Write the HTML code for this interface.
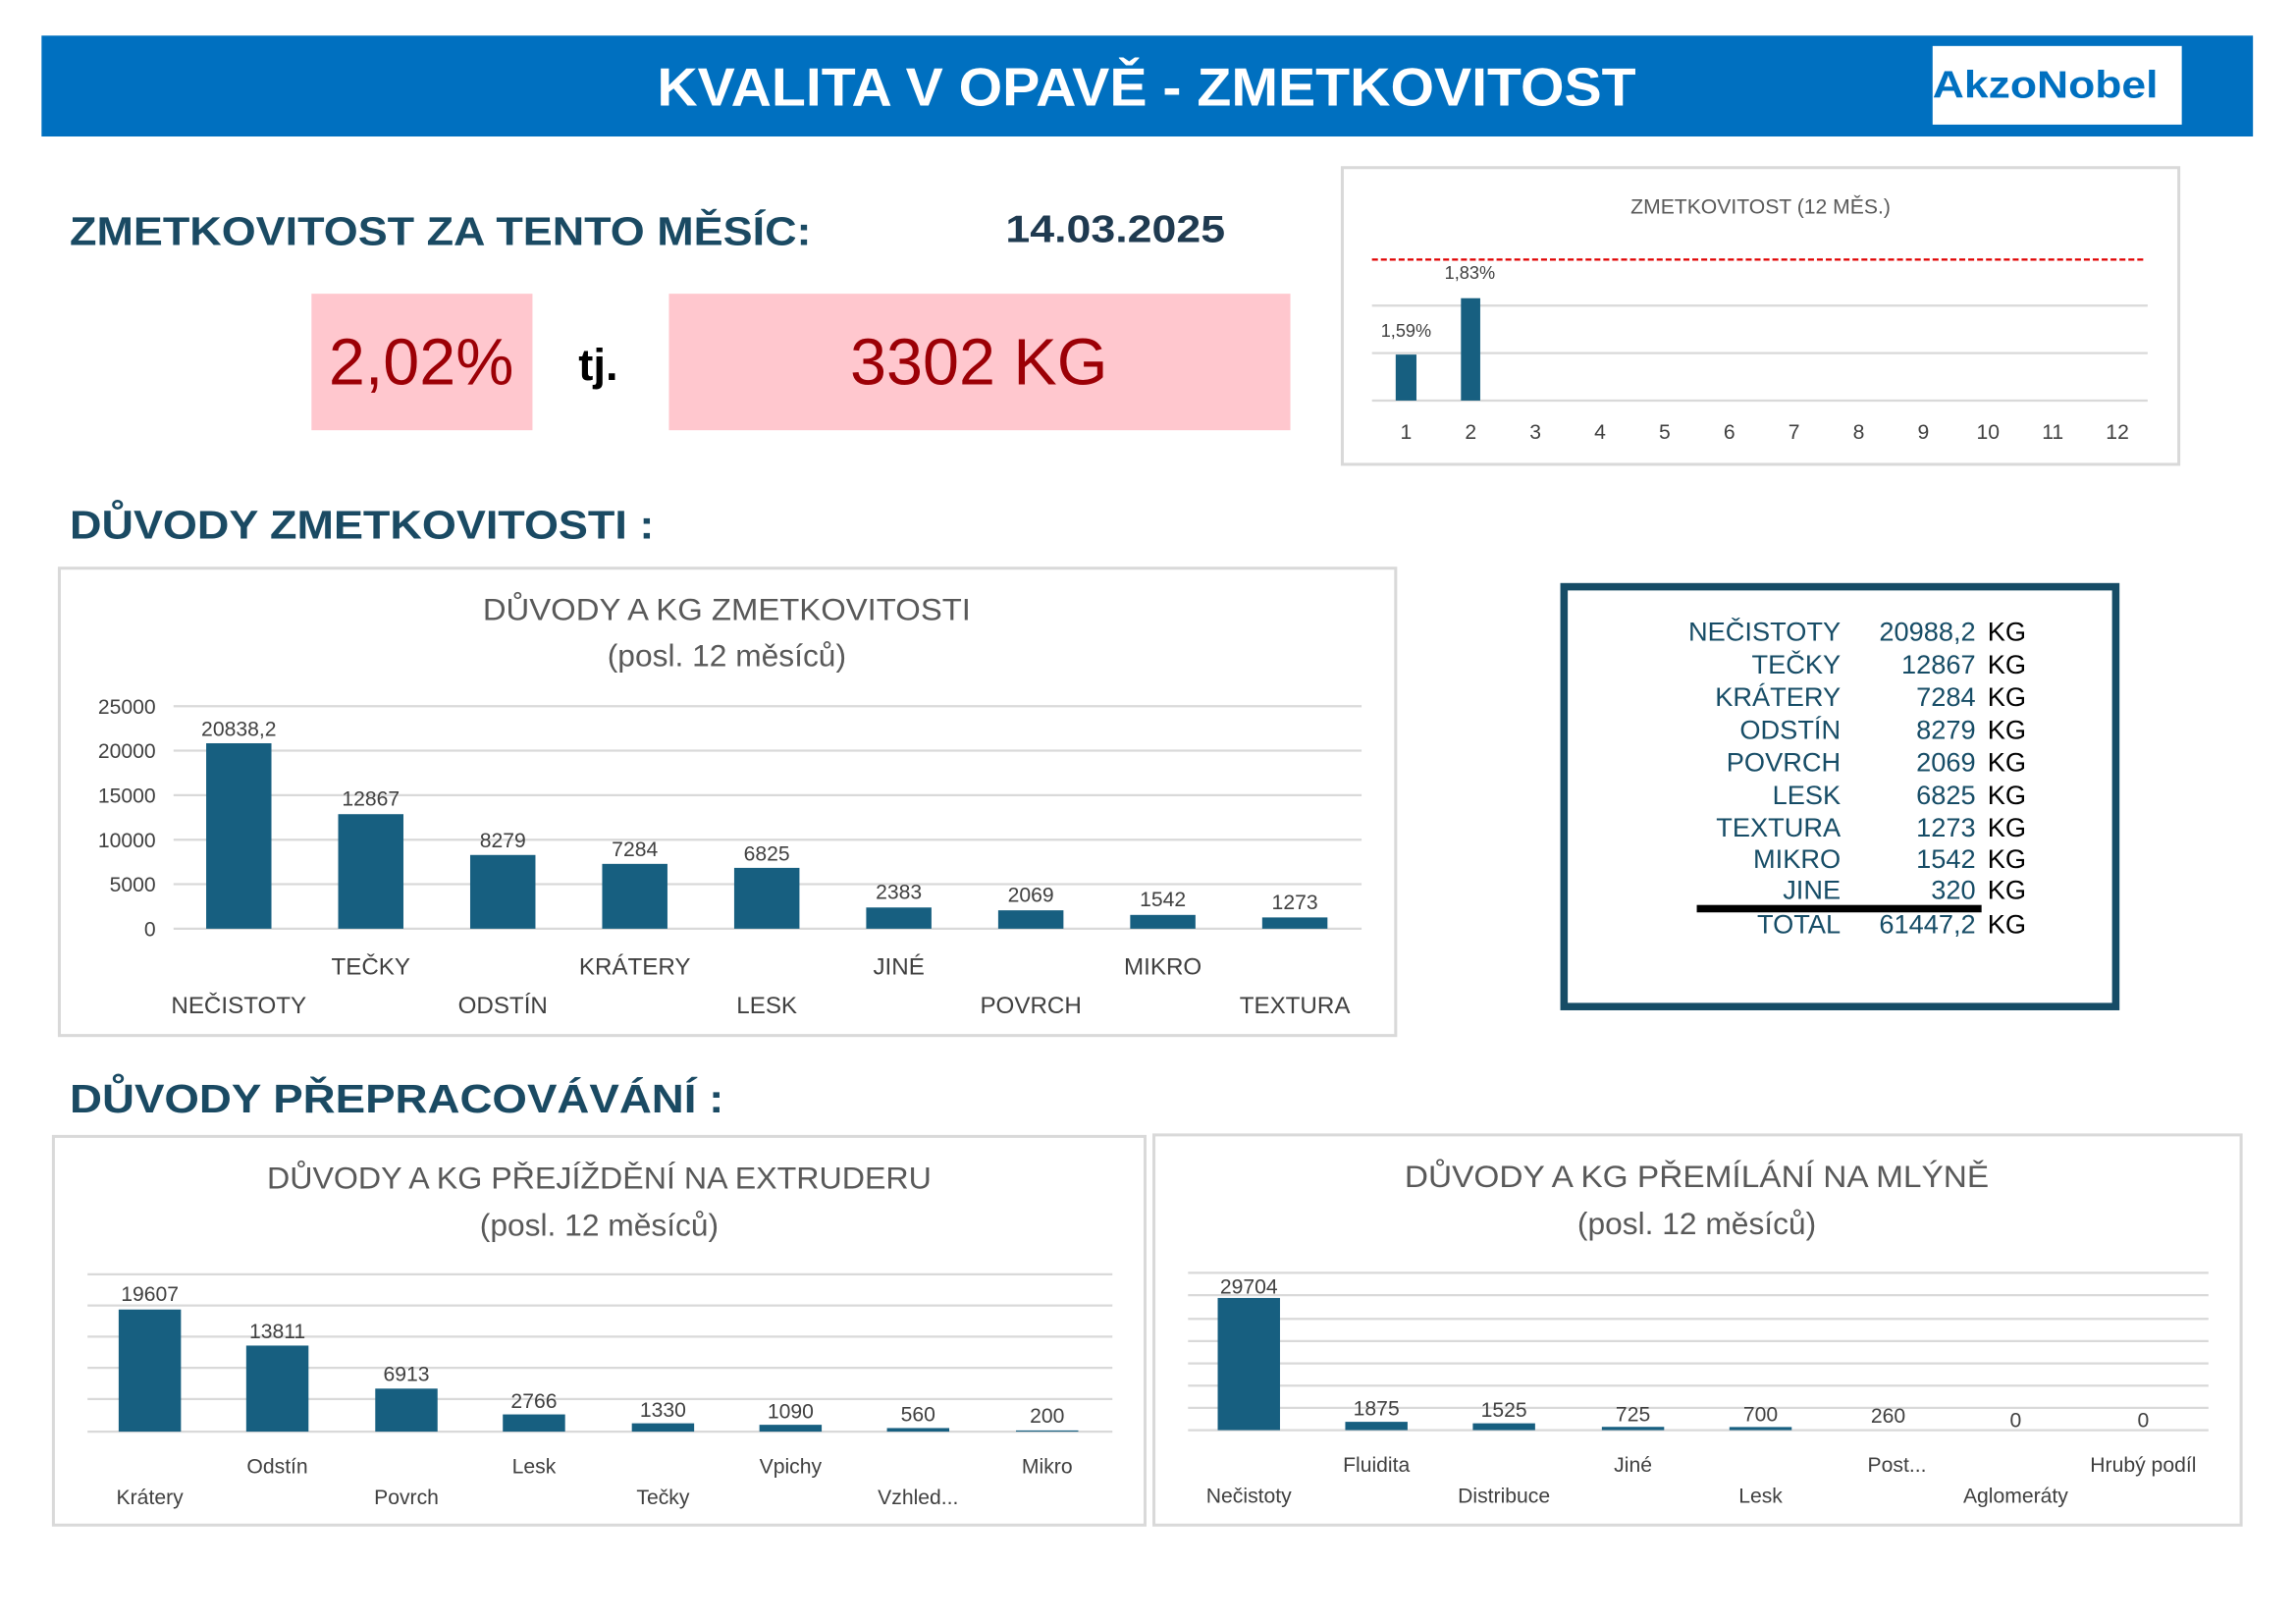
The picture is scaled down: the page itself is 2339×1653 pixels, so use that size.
<!DOCTYPE html>
<html><head><meta charset="utf-8"><style>
html,body{margin:0;padding:0;background:#fff;width:2339px;height:1653px;overflow:hidden}
svg{display:block}
text{font-family:"Liberation Sans",sans-serif}
.h{font-weight:bold;fill:#1a4a63;font-size:27px}
.ct{fill:#595959;font-size:21px;text-anchor:middle}
.dl{fill:#404040;font-size:14px;text-anchor:middle}
.cl{fill:#404040;font-size:16px;text-anchor:middle}
.cs{fill:#404040;font-size:14px;text-anchor:middle}
.g{stroke:#d9d9d9;stroke-width:1.5}
.b{fill:#175f80}
.fr{fill:#fff;stroke:#d9d9d9;stroke-width:2}
.tl{fill:#164c66;font-size:18px;text-anchor:end}
.tk{fill:#000;font-size:18px}
</style></head><body>
<svg width="2339" height="1653" viewBox="0 0 1548 1094" xmlns="http://www.w3.org/2000/svg">
<rect x="0" y="0" width="1548" height="1094" fill="#fff"/>
<rect x="28" y="24" width="1491" height="68" fill="#0070c0"/>
<text x="443" y="71" fill="#fff" font-weight="bold" font-size="36" textLength="660" lengthAdjust="spacingAndGlyphs">KVALITA V OPAVĚ - ZMETKOVITOST</text>
<rect x="1303" y="31" width="168" height="53" fill="#fff"/>
<text x="1303" y="66" fill="#0070c0" font-weight="bold" font-size="26" textLength="152" lengthAdjust="spacingAndGlyphs">AkzoNobel</text>

<text x="47" y="165" class="h" textLength="500" lengthAdjust="spacingAndGlyphs">ZMETKOVITOST ZA TENTO MĚSÍC:</text>
<text x="678" y="163" font-weight="bold" font-size="26" fill="#1f3a50" textLength="148" lengthAdjust="spacingAndGlyphs">14.03.2025</text>
<rect x="210" y="198" width="149" height="92" fill="#ffc7ce"/>
<text x="284" y="259" text-anchor="middle" fill="#9c0006" font-size="44">2,02%</text>
<text x="390" y="256" font-weight="bold" font-size="30" fill="#000">tj.</text>
<rect x="451" y="198" width="419" height="92" fill="#ffc7ce"/>
<text x="660" y="259" text-anchor="middle" fill="#9c0006" font-size="44">3302 KG</text>

<rect x="905" y="113" width="564" height="200" class="fr"/>
<text x="1187" y="144" text-anchor="middle" fill="#595959" font-size="14">ZMETKOVITOST (12 MĚS.)</text>
<line x1="925" y1="206" x2="1448" y2="206" class="g"/>
<line x1="925" y1="238" x2="1448" y2="238" class="g"/>
<line x1="925" y1="270" x2="1448" y2="270" class="g"/>
<line x1="925" y1="175" x2="1446" y2="175" stroke="#e00000" stroke-width="1.5" stroke-dasharray="4,2"/>
<rect x="941" y="239" width="14" height="31" class="b"/>
<rect x="985" y="201" width="13" height="69" class="b"/>
<text x="948" y="227" class="cs" style="font-size:12px">1,59%</text>
<text x="991" y="188" class="cs" style="font-size:12px">1,83%</text>
<g class="cs">
<text x="948" y="296">1</text><text x="991.6" y="296">2</text><text x="1035.2" y="296">3</text><text x="1078.8" y="296">4</text><text x="1122.4" y="296">5</text><text x="1166" y="296">6</text><text x="1209.6" y="296">7</text><text x="1253.2" y="296">8</text><text x="1296.8" y="296">9</text><text x="1340.4" y="296">10</text><text x="1384" y="296">11</text><text x="1427.6" y="296">12</text>
</g>

<text x="47" y="363" class="h" textLength="394" lengthAdjust="spacingAndGlyphs">DŮVODY ZMETKOVITOSTI :</text>

<rect x="40" y="383" width="901" height="315" class="fr"/>
<text x="490" y="418" class="ct" textLength="329" lengthAdjust="spacingAndGlyphs">DŮVODY A KG ZMETKOVITOSTI</text>
<text x="490" y="449" class="ct">(posl. 12 měsíců)</text>
<g class="g">
<line x1="117" y1="476" x2="918" y2="476"/><line x1="117" y1="506" x2="918" y2="506"/><line x1="117" y1="536" x2="918" y2="536"/><line x1="117" y1="566" x2="918" y2="566"/><line x1="117" y1="596" x2="918" y2="596"/><line x1="117" y1="626" x2="918" y2="626"/>
</g>
<g class="cs" style="text-anchor:end">
<text x="105" y="481">25000</text><text x="105" y="511">20000</text><text x="105" y="541">15000</text><text x="105" y="571">10000</text><text x="105" y="601">5000</text><text x="105" y="631">0</text>
</g>
<g class="b">
<rect x="139" y="501" width="44" height="125"/>
<rect x="228" y="548.8" width="44" height="77.2"/>
<rect x="317" y="576.3" width="44" height="49.7"/>
<rect x="406" y="582.3" width="44" height="43.7"/>
<rect x="495" y="585" width="44" height="41"/>
<rect x="584" y="611.7" width="44" height="14.3"/>
<rect x="673" y="613.6" width="44" height="12.4"/>
<rect x="762" y="616.7" width="44" height="9.3"/>
<rect x="851" y="618.4" width="44" height="7.6"/>
</g>
<g class="dl">
<text x="161" y="496">20838,2</text><text x="250" y="543">12867</text><text x="339" y="571">8279</text><text x="428" y="577">7284</text><text x="517" y="580">6825</text><text x="606" y="606">2383</text><text x="695" y="608">2069</text><text x="784" y="611">1542</text><text x="873" y="613">1273</text>
</g>
<g class="cl">
<text x="161" y="683">NEČISTOTY</text><text x="250" y="657">TEČKY</text><text x="339" y="683">ODSTÍN</text><text x="428" y="657">KRÁTERY</text><text x="517" y="683">LESK</text><text x="606" y="657">JINÉ</text><text x="695" y="683">POVRCH</text><text x="784" y="657">MIKRO</text><text x="873" y="683">TEXTURA</text>
</g>

<rect x="1054.5" y="395.5" width="372" height="283" fill="#fff" stroke="#164c66" stroke-width="5"/>
<g class="tl">
<text x="1241" y="432">NEČISTOTY</text><text x="1241" y="454">TEČKY</text><text x="1241" y="476">KRÁTERY</text><text x="1241" y="498">ODSTÍN</text><text x="1241" y="520">POVRCH</text><text x="1241" y="542">LESK</text><text x="1241" y="564">TEXTURA</text><text x="1241" y="585">MIKRO</text><text x="1241" y="606">JINE</text><text x="1241" y="629">TOTAL</text>
<text x="1332" y="432">20988,2</text><text x="1332" y="454">12867</text><text x="1332" y="476">7284</text><text x="1332" y="498">8279</text><text x="1332" y="520">2069</text><text x="1332" y="542">6825</text><text x="1332" y="564">1273</text><text x="1332" y="585">1542</text><text x="1332" y="606">320</text><text x="1332" y="629">61447,2</text>
</g>
<g class="tk">
<text x="1340" y="432">KG</text><text x="1340" y="454">KG</text><text x="1340" y="476">KG</text><text x="1340" y="498">KG</text><text x="1340" y="520">KG</text><text x="1340" y="542">KG</text><text x="1340" y="564">KG</text><text x="1340" y="585">KG</text><text x="1340" y="606">KG</text><text x="1340" y="629">KG</text>
</g>
<rect x="1144" y="610" width="192" height="5" fill="#000"/>

<text x="47" y="750" class="h" textLength="441" lengthAdjust="spacingAndGlyphs">DŮVODY PŘEPRACOVÁVÁNÍ  :</text>

<rect x="36" y="766" width="736" height="262" class="fr"/>
<text x="404" y="801" class="ct" textLength="448" lengthAdjust="spacingAndGlyphs">DŮVODY A KG PŘEJÍŽDĚNÍ NA EXTRUDERU</text>
<text x="404" y="833" class="ct">(posl. 12 měsíců)</text>
<g class="g">
<line x1="59" y1="859" x2="750" y2="859"/><line x1="59" y1="880" x2="750" y2="880"/><line x1="59" y1="901" x2="750" y2="901"/><line x1="59" y1="922" x2="750" y2="922"/><line x1="59" y1="943" x2="750" y2="943"/><line x1="59" y1="965" x2="750" y2="965"/>
</g>
<g class="b">
<rect x="80" y="882.7" width="42" height="82.3"/>
<rect x="166" y="907" width="42" height="58"/>
<rect x="253" y="936" width="42" height="29"/>
<rect x="339" y="953.4" width="42" height="11.6"/>
<rect x="426" y="959.4" width="42" height="5.6"/>
<rect x="512" y="960.4" width="42" height="4.6"/>
<rect x="598" y="962.6" width="42" height="2.4"/>
<rect x="685" y="964.2" width="42" height="0.8"/>
</g>
<g class="dl">
<text x="101" y="877">19607</text><text x="187" y="902">13811</text><text x="274" y="931">6913</text><text x="360" y="949">2766</text><text x="447" y="955">1330</text><text x="533" y="956">1090</text><text x="619" y="958">560</text><text x="706" y="959">200</text>
</g>
<g class="cs">
<text x="101" y="1014">Krátery</text><text x="187" y="993">Odstín</text><text x="274" y="1014">Povrch</text><text x="360" y="993">Lesk</text><text x="447" y="1014">Tečky</text><text x="533" y="993">Vpichy</text><text x="619" y="1014">Vzhled...</text><text x="706" y="993">Mikro</text>
</g>

<rect x="778" y="765" width="733" height="263" class="fr"/>
<text x="1144" y="800" class="ct" textLength="394" lengthAdjust="spacingAndGlyphs">DŮVODY A KG PŘEMÍLÁNÍ NA MLÝNĚ</text>
<text x="1144" y="832" class="ct">(posl. 12 měsíců)</text>
<g class="g">
<line x1="801" y1="858" x2="1489" y2="858"/><line x1="801" y1="873" x2="1489" y2="873"/><line x1="801" y1="889" x2="1489" y2="889"/><line x1="801" y1="904" x2="1489" y2="904"/><line x1="801" y1="919" x2="1489" y2="919"/><line x1="801" y1="934" x2="1489" y2="934"/><line x1="801" y1="949" x2="1489" y2="949"/><line x1="801" y1="964" x2="1489" y2="964"/>
</g>
<g class="b">
<rect x="821" y="874.9" width="42" height="89.1"/>
<rect x="907" y="958.4" width="42" height="5.6"/>
<rect x="993" y="959.4" width="42" height="4.6"/>
<rect x="1080" y="961.8" width="42" height="2.2"/>
<rect x="1166" y="961.9" width="42" height="2.1"/>
</g>
<g class="dl">
<text x="842" y="872">29704</text><text x="928" y="954">1875</text><text x="1014" y="955">1525</text><text x="1101" y="958">725</text><text x="1187" y="958">700</text><text x="1273" y="959">260</text><text x="1359" y="962">0</text><text x="1445" y="962">0</text>
</g>
<g class="cs">
<text x="842" y="1013">Nečistoty</text><text x="928" y="992">Fluidita</text><text x="1014" y="1013">Distribuce</text><text x="1101" y="992">Jiné</text><text x="1187" y="1013">Lesk</text><text x="1279" y="992">Post...</text><text x="1359" y="1013">Aglomeráty</text><text x="1445" y="992">Hrubý podíl</text>
</g>
</svg>
</body></html>
